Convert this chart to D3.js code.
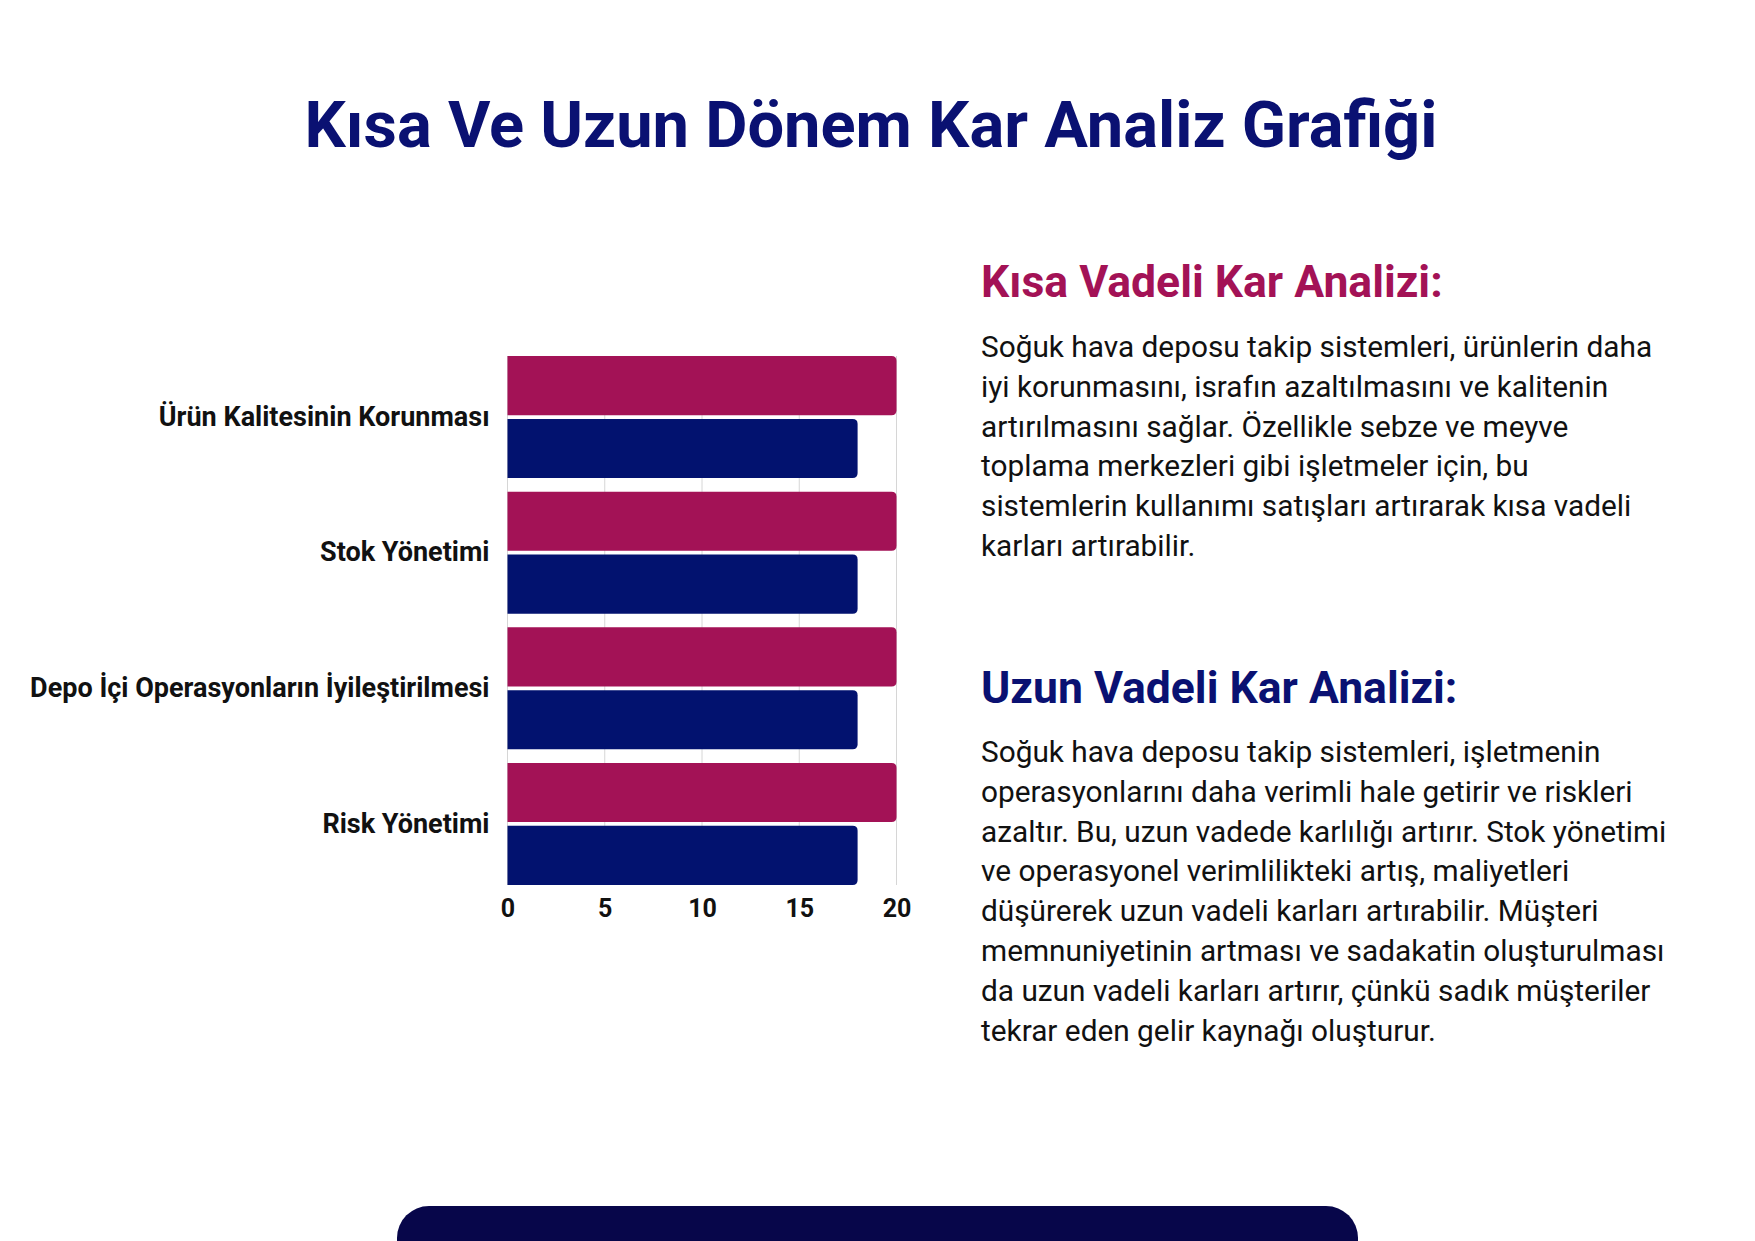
<!DOCTYPE html>
<html>
<head>
<meta charset="utf-8">
<script src="https://cdn.jsdelivr.net/npm/d3@7"></script>
<style>
  body { margin: 0; background: #fff; }
  svg { display: block; font-family: Roboto, "Noto Sans", sans-serif; }
</style>
</head>
<body>
<div id="chart"></div>
<script>
// chart data
var categories = ["Ürün Kalitesinin Korunması", "Stok Yönetimi", "Depo İçi Operasyonların İyileştirilmesi", "Risk Yönetimi"];
var seriesNames = ["Kısa Vadeli", "Uzun Vadeli"];
var shortTerm = [20, 20, 20, 20];
var longTerm = [18, 18, 18, 18];
var tickValues = [0, 5, 10, 15, 20];

// page texts
var title = "Kısa Ve Uzun Dönem Kar Analiz Grafiği";
var heading1 = "Kısa Vadeli Kar Analizi:";
var para1 = [
  "Soğuk hava deposu takip sistemleri, ürünlerin daha",
  "iyi korunmasını, israfın azaltılmasını ve kalitenin",
  "artırılmasını sağlar. Özellikle sebze ve meyve",
  "toplama merkezleri gibi işletmeler için, bu",
  "sistemlerin kullanımı satışları artırarak kısa vadeli",
  "karları artırabilir."
];
var heading2 = "Uzun Vadeli Kar Analizi:";
var para2 = [
  "Soğuk hava deposu takip sistemleri, işletmenin",
  "operasyonlarını daha verimli hale getirir ve riskleri",
  "azaltır. Bu, uzun vadede karlılığı artırır. Stok yönetimi",
  "ve operasyonel verimlilikteki artış, maliyetleri",
  "düşürerek uzun vadeli karları artırabilir. Müşteri",
  "memnuniyetinin artması ve sadakatin oluşturulması",
  "da uzun vadeli karları artırır, çünkü sadık müşteriler",
  "tekrar eden gelir kaynağı oluşturur."
];

var pink = "#a31256";
var navy = "#02126f";

var width = 1755, height = 1241;

var svg = d3.select("#chart").append("svg")
  .attr("width", width)
  .attr("height", height);

svg.append("rect").attr("width", width).attr("height", height).attr("fill", "#fff");

// title
svg.append("text")
  .attr("x", 871)
  .attr("y", 147)
  .attr("text-anchor", "middle")
  .attr("font-size", 65)
  .attr("font-weight", 700)
  .attr("fill", "#0a1172")
  .text(title);

// ---- bar chart ----
var x = d3.scaleLinear().domain([0, 20]).range([507.5, 896.5]);

var y0 = d3.scaleBand()
  .domain(categories)
  .range([356, 885])
  .paddingInner(0.1)
  .paddingOuter(0);

var y1 = d3.scaleBand()
  .domain(seriesNames)
  .range([0, y0.bandwidth()])
  .paddingInner(0.06);

var rows = categories.map(function(c, i) {
  return { cat: c, vals: [
    { s: seriesNames[0], v: shortTerm[i], color: pink },
    { s: seriesNames[1], v: longTerm[i], color: navy }
  ]};
});

// grid lines
svg.append("g")
  .selectAll("line")
  .data(tickValues)
  .enter()
  .append("line")
  .attr("x1", d => x(d))
  .attr("x2", d => x(d))
  .attr("y1", 356)
  .attr("y2", 885)
  .attr("stroke", "#d6d6d6")
  .attr("stroke-width", 1);

// bar with rounded right corners
function barPath(x0, yTop, w, h, r) {
  r = Math.min(r, w, h / 2);
  return "M" + x0 + "," + yTop +
    "H" + (x0 + w - r) +
    "Q" + (x0 + w) + "," + yTop + " " + (x0 + w) + "," + (yTop + r) +
    "V" + (yTop + h - r) +
    "Q" + (x0 + w) + "," + (yTop + h) + " " + (x0 + w - r) + "," + (yTop + h) +
    "H" + x0 + "Z";
}

var groups = svg.append("g")
  .selectAll("g")
  .data(rows)
  .enter()
  .append("g")
  .attr("transform", d => `translate(0, ${y0(d.cat)})`);

groups.selectAll("path")
  .data(d => d.vals)
  .enter()
  .append("path")
  .attr("d", d => barPath(x(0), y1(d.s), x(d.v) - x(0), y1.bandwidth(), 5))
  .attr("fill", d => d.color);

// category axis
var leftAxis = d3.axisLeft(y0).tickSize(0).tickPadding(18);
var gy = svg.append("g")
  .attr("transform", `translate(${x(0)}, 0)`)
  .call(leftAxis);
gy.select(".domain").remove();
gy.selectAll("text")
  .attr("font-size", 27)
  .attr("font-weight", 700)
  .attr("font-family", "Roboto, sans-serif")
  .attr("fill", "#111");

// value axis
var bottomAxis = d3.axisBottom(x).tickValues(tickValues).tickSize(0).tickPadding(14);
var gx = svg.append("g")
  .attr("transform", `translate(0, 885)`)
  .call(bottomAxis);
gx.select(".domain").remove();
gx.selectAll("text")
  .attr("font-size", 25)
  .attr("font-weight", 700)
  .attr("font-family", "Roboto, sans-serif")
  .attr("fill", "#111");

// ---- side texts ----
function block(head, color, headY, lines, firstY) {
  svg.append("text")
    .attr("x", 981)
    .attr("y", headY)
    .attr("font-size", 44.5)
    .attr("font-weight", 700)
    .attr("fill", color)
    .text(head);
  svg.append("g")
    .selectAll("text")
    .data(lines)
    .enter()
    .append("text")
    .attr("x", 981)
    .attr("y", (d, i) => firstY + i * 39.8)
    .attr("font-size", 29.8)
    .attr("fill", "#111")
    .text(d => d);
}
block(heading1, pink, 297, para1, 357);
block(heading2, "#0a1172", 703, para2, 762);

// bottom band
svg.append("rect")
  .attr("x", 397)
  .attr("y", 1206)
  .attr("width", 961)
  .attr("height", 120)
  .attr("rx", 32)
  .attr("fill", "#07064a");
</script>
</body>
</html>
